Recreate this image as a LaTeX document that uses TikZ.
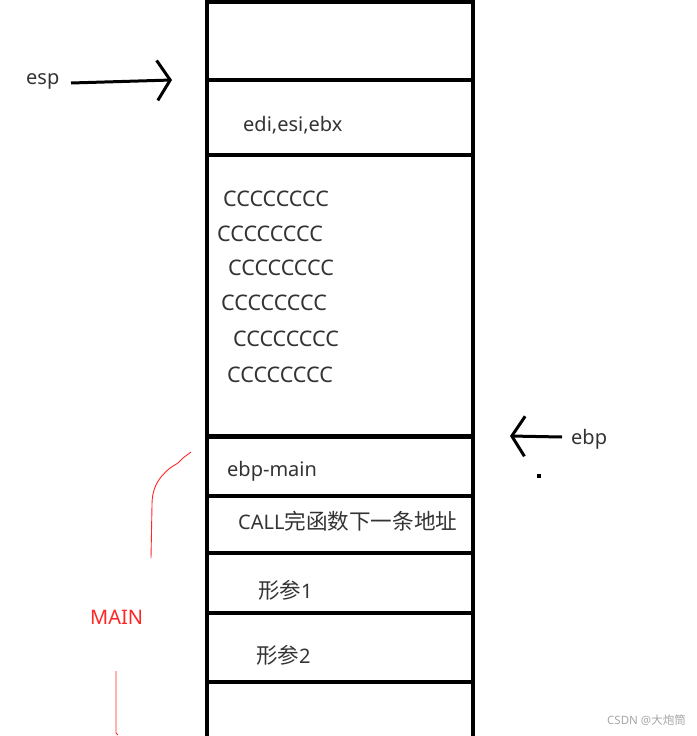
\documentclass[tikz,border=0pt]{standalone}
\usepackage{fontspec}
\setmainfont{Noto Sans}
\newfontfamily\cjk{Noto Sans CJK SC}
\usetikzlibrary{arrows.meta}
\begin{document}
\begin{tikzpicture}[x=1pt,y=-1pt,
  stackline/.style={line width=3.5pt,black},
  txt/.style={anchor=west,inner sep=0pt,font=\fontsize{20}{22}\selectfont,text=black!80},
  crow/.style={txt,font=\fontsize{21.5}{22}\selectfont},
  ptr/.style={line width=3pt,-{Straight Barb[length=13pt,width=40pt,line width=3pt]}},
  redline/.style={red!85!white,line width=0.9pt}]
\useasboundingbox (0,0) rectangle (696,736);
% stack column
\draw[stackline] (207,-5) -- (207,741);
\draw[stackline] (473,-5) -- (473,741);
\foreach \yy in {2,80,155,437,496,553,613,682}
  \draw[stackline] (207,\yy) -- (473,\yy);
\draw[line width=1.5pt] (207,434.5) -- (473,434.5);
% contents
\node[txt] (regs) at (243,125) {edi,esi,ebx};
\node[crow] (c1) at (223,199) {CCCCCCCC};
\node[crow] (c2) at (217,234) {CCCCCCCC};
\node[crow] (c3) at (228,268) {CCCCCCCC};
\node[crow] (c4) at (221,303) {CCCCCCCC};
\node[crow] (c5) at (233,339) {CCCCCCCC};
\node[crow] (c6) at (227,375) {CCCCCCCC};
\node[txt] (ebpmain) at (227,471) {ebp-main};
\node[txt] (ret) at (238,521) {CALL{\cjk\fontsize{21.6}{22}\selectfont 完函数下一条地址}};
\node[txt] (arg1) at (258,590) {{\cjk\fontsize{21.5}{22}\selectfont 形参}1};
\node[txt] (arg2) at (256,655) {{\cjk\fontsize{21.5}{22}\selectfont 形参}2};
% pointers
\node[txt] (esp) at (26,81) {esp};
\coordinate (espfrom) at (71,83);
\coordinate (espto) at (172,80);
\draw[ptr] (espfrom) -- (espto);
\node[txt] (ebp) at (571,439) {ebp};
\coordinate (ebpfrom) at (562,437);
\coordinate (ebpto) at (510,436);
\draw[ptr] (ebpfrom) -- (ebpto);
\fill (537,474) rectangle (541,478);
% MAIN bracket
\node[txt,text=red!85!white] (main) at (90,617) {MAIN};
\draw[redline] (191,452) -- (183,458) -- (178,463) -- (170,468)
  .. controls (158,478) and (152,488) .. (152,505) -- (151,558);
\draw[redline] (116,671) -- (116,733) -- (118,735);
% watermark
\node[anchor=west,inner sep=0pt,text=black!35,font=\fontsize{11.5}{13}\selectfont] (wm) at (607,720) {CSDN @{\cjk 大炮筒}};
\end{tikzpicture}
\end{document}
